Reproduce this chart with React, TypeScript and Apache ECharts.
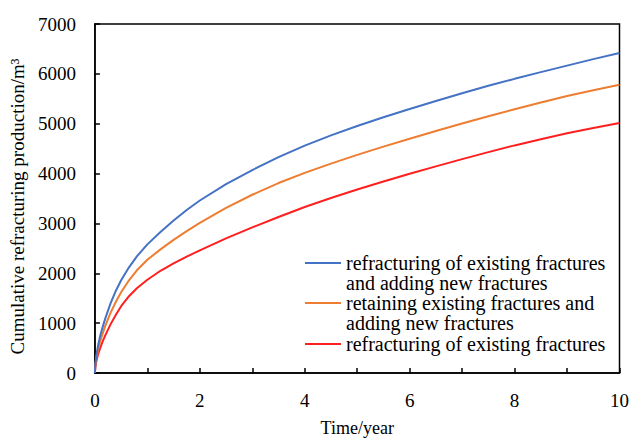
import React, { useEffect, useRef } from "react";
import * as echarts from "echarts";

const seriesNames = [
  "refracturing of existing fractures\nand adding new fractures",
  "retaining existing fractures and\nadding new fractures",
  "refracturing of existing fractures",
];
const seriesColors = ["#4472C4", "#ED7D31", "#FF1F1F"];

const timeYears = [0, 0.01, 0.03, 0.06, 0.1, 0.15, 0.2, 0.3, 0.4, 0.5, 0.65, 0.8, 1, 1.25, 1.5, 1.75, 2, 2.5, 3, 3.5, 4, 4.5, 5, 5.5, 6, 6.5, 7, 7.5, 8, 8.5, 9, 9.5, 10];
const blueValues = [0, 200, 370, 550, 740, 930, 1100, 1400, 1650, 1860, 2120, 2340, 2580, 2830, 3060, 3270, 3460, 3790, 4070, 4330, 4560, 4765, 4955, 5130, 5295, 5455, 5610, 5760, 5900, 6035, 6165, 6295, 6420];
const orangeValues = [0, 170, 315, 470, 635, 800, 950, 1210, 1430, 1620, 1860, 2060, 2270, 2480, 2670, 2845, 3010, 3310, 3575, 3810, 4015, 4200, 4375, 4540, 4700, 4855, 5005, 5150, 5290, 5425, 5555, 5670, 5780];
const redValues = [0, 130, 245, 370, 500, 640, 760, 980, 1170, 1340, 1540, 1700, 1870, 2050, 2200, 2335, 2460, 2700, 2920, 3130, 3330, 3510, 3680, 3840, 3995, 4145, 4290, 4430, 4565, 4690, 4810, 4915, 5015];

const xTicks = { min: 0, max: 10, interval: 1 };
const yTicks = { min: 0, max: 7000, interval: 1000 };

const FONT = "'Liberation Serif', 'Times New Roman', serif";

export default function App() {
  const ref = useRef<HTMLDivElement>(null);
  useEffect(() => {
    if (!ref.current) return;
    const chart = echarts.init(ref.current, undefined, { renderer: "svg" });
    const allValues = [blueValues, orangeValues, redValues];
    const legendTops = [233, 273, 334];
    chart.setOption({
      animation: false,
      backgroundColor: "#fff",
      grid: {
        left: 93,
        right: 9,
        top: 24,
        bottom: 61,
        show: true,
        borderColor: "#000",
        borderWidth: 1.5,
        backgroundColor: "transparent",
      },
      legend: seriesNames.map((n, i) => ({
        show: true,
        orient: "vertical",
        left: 305,
        top: legendTops[i],
        padding: 0,
        itemWidth: 36,
        itemHeight: 2,
        icon: "rect",
        selectedMode: false,
        data: [n],
        formatter: (name: string) => (name.indexOf("\n") >= 0 ? " \n" + name : name),
        textStyle: { fontFamily: FONT, fontSize: 20, lineHeight: 20, color: "#000" },
      })),
      xAxis: {
        type: "value",
        min: xTicks.min,
        max: xTicks.max,
        interval: xTicks.interval,
        name: "Time/year",
        nameLocation: "middle",
        nameGap: 46,
        nameTextStyle: { fontFamily: FONT, fontSize: 18, color: "#000" },
        axisLine: { show: true, lineStyle: { color: "#000", width: 1.5 } },
        axisTick: { show: true, inside: true, length: 5, lineStyle: { color: "#000", width: 1.5 } },
        axisLabel: {
          fontFamily: FONT,
          fontSize: 19,
          color: "#000",
          margin: 18,
          formatter: (v: number) => (v % 2 === 0 ? String(v) : ""),
        },
        splitLine: { show: false },
      },
      yAxis: {
        type: "value",
        min: yTicks.min,
        max: yTicks.max,
        interval: yTicks.interval,
        name: "Cumulative refracturing production/m³",
        nameLocation: "middle",
        nameGap: 60,
        nameTextStyle: { fontFamily: FONT, fontSize: 19, color: "#000", padding: [0, 16, 0, 0] },
        axisLine: { show: true, lineStyle: { color: "#000", width: 1.5 } },
        axisTick: { show: true, inside: true, length: 5, lineStyle: { color: "#000", width: 1.5 } },
        axisLabel: {
          fontFamily: FONT,
          fontSize: 19,
          color: "#000",
          margin: 19,
          formatter: (v: number) => String(v),
        },
        splitLine: { show: false },
      },
      series: seriesNames.map((n, i) => ({
        name: n,
        type: "line",
        smooth: false,
        showSymbol: false,
        symbol: "none",
        color: seriesColors[i],
        lineStyle: { color: seriesColors[i], width: 2 },
        data: timeYears.map((t, k) => [t, allValues[i][k]]),
        z: 5 - i,
      })),
    });
    return () => chart.dispose();
  }, []);
  return (
    <div
      ref={ref}
      style={{ position: "fixed", left: 0, top: 0, width: 632, height: 442, background: "#fff" }}
    />
  );
}
